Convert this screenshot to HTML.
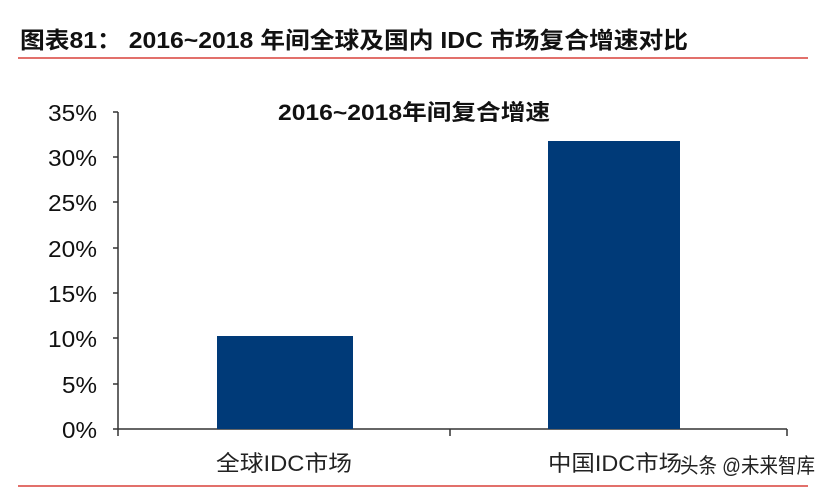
<!DOCTYPE html><html><head><meta charset="utf-8"><style>body{margin:0;background:#fff;}</style></head><body>
<svg width="826" height="491" xmlns="http://www.w3.org/2000/svg" font-family="Liberation Sans, Noto Sans CJK SC, sans-serif">
<rect width="826" height="491" fill="#fff"/>
<text x="20" y="48" font-size="23" font-weight="bold" fill="#111" textLength="668" lengthAdjust="spacingAndGlyphs">图表81：  2016~2018 年间全球及国内 IDC 市场复合增速对比</text>
<line x1="18" y1="58" x2="808" y2="58" stroke="#d9403a" stroke-width="1.5"/>
<text x="278" y="120" font-size="22" font-weight="bold" fill="#111" textLength="272" lengthAdjust="spacingAndGlyphs">2016~2018年间复合增速</text>
<g stroke="#333" stroke-width="1.5">
<line x1="118" y1="112" x2="118" y2="436"/>
<line x1="118" y1="429" x2="787" y2="429"/>
<line x1="450" y1="429" x2="450" y2="436"/>
<line x1="787" y1="429" x2="787" y2="436"/>
<line x1="113" y1="112" x2="118" y2="112"/><line x1="113" y1="157" x2="118" y2="157"/><line x1="113" y1="202" x2="118" y2="202"/><line x1="113" y1="248" x2="118" y2="248"/><line x1="113" y1="293" x2="118" y2="293"/><line x1="113" y1="338" x2="118" y2="338"/><line x1="113" y1="384" x2="118" y2="384"/><line x1="113" y1="429" x2="118" y2="429"/>
</g>
<g font-size="23" fill="#111">
<text x="48" y="121" textLength="49" lengthAdjust="spacingAndGlyphs">35%</text><text x="48" y="166" textLength="49" lengthAdjust="spacingAndGlyphs">30%</text><text x="48" y="211" textLength="49" lengthAdjust="spacingAndGlyphs">25%</text><text x="48" y="257" textLength="49" lengthAdjust="spacingAndGlyphs">20%</text><text x="48" y="302" textLength="49" lengthAdjust="spacingAndGlyphs">15%</text><text x="48" y="347" textLength="49" lengthAdjust="spacingAndGlyphs">10%</text><text x="62" y="393" textLength="35" lengthAdjust="spacingAndGlyphs">5%</text><text x="62" y="438" textLength="35" lengthAdjust="spacingAndGlyphs">0%</text>
</g>
<rect x="217" y="336" width="136" height="93" fill="#003a78"/>
<rect x="548" y="141" width="132" height="288" fill="#003a78"/>
<g font-size="22" fill="#222">
<text x="216" y="471" textLength="136" lengthAdjust="spacingAndGlyphs">全球IDC市场</text><text x="548" y="471" textLength="134" lengthAdjust="spacingAndGlyphs">中国IDC市场</text>
</g>
<text x="680" y="473" font-size="21" fill="#222" textLength="135" lengthAdjust="spacingAndGlyphs">头条 @未来智库</text>
<line x1="18" y1="486" x2="808" y2="486" stroke="#d9403a" stroke-width="1.5"/>
</svg></body></html>
